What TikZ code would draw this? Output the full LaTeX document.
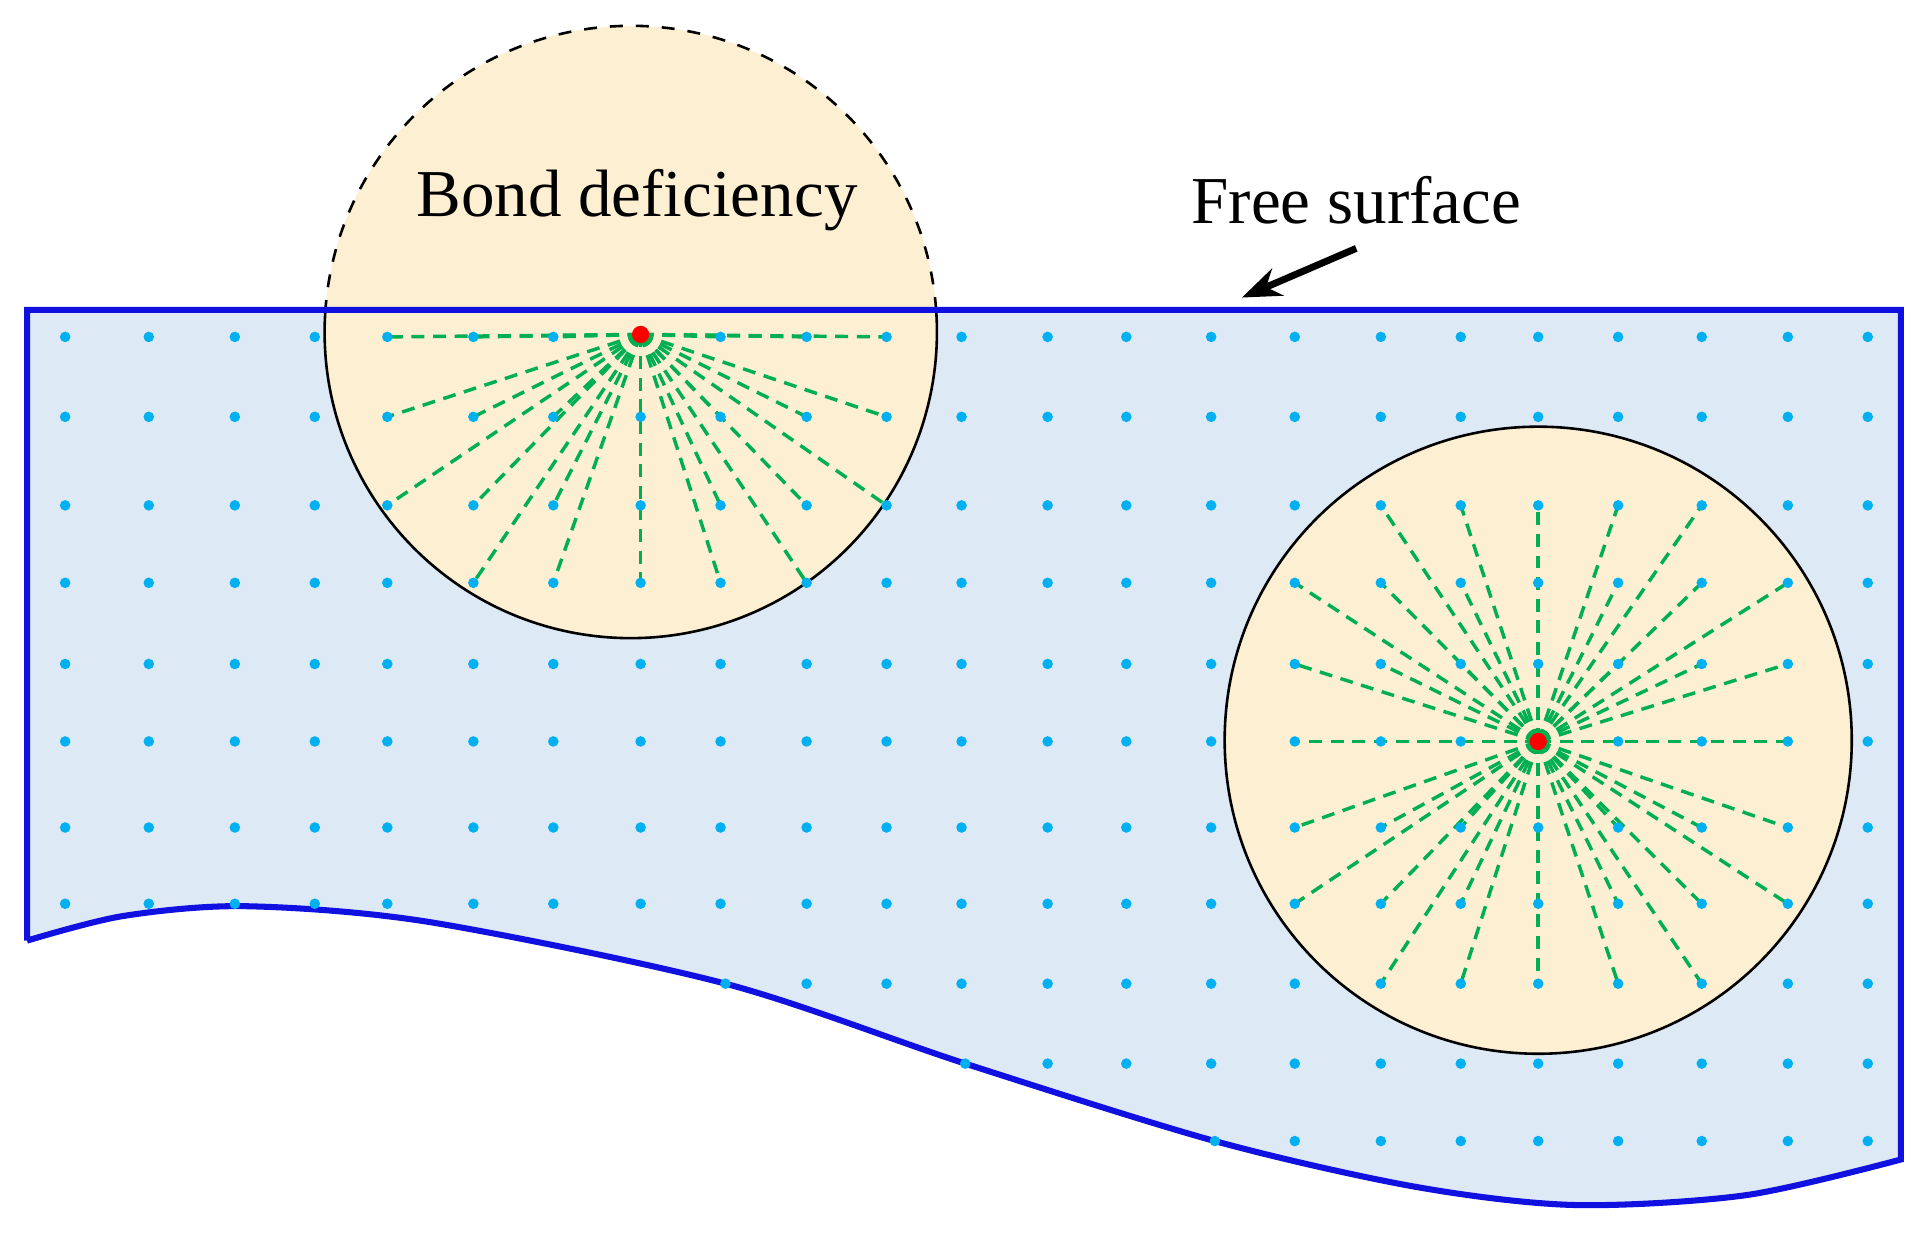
\documentclass[tikz,border=0pt]{standalone}
\usepackage{fontspec}
\setmainfont{Liberation Serif}
\usetikzlibrary{arrows.meta}
\definecolor{regfill}{RGB}{222,233,246}
\definecolor{regline}{RGB}{16,16,224}
\definecolor{porefill}{RGB}{253,240,210}
\definecolor{dotcol}{RGB}{0,176,240}
\definecolor{bondcol}{RGB}{0,176,80}
\begin{document}
\begin{tikzpicture}[x=0.01cm,y=-0.01cm,
  bond/.style={draw=bondcol, line width=0.8pt, dash pattern=on 3pt off 2pt},
  label/.style={font=\fontsize{15.5}{18}\selectfont, inner sep=0pt}]
\useasboundingbox (0,0) rectangle (1568,1015);
% region
\path[fill=regfill] (22,252) -- (1546,252) -- (1546,943)
  -- plot[smooth] coordinates {(1546,943)(1420,972)(1280,980)(1150,965)(988,928)(785,865)(590,800)(350,750)(200,737)(100,745)(22,765)} -- cycle;
% pores
\fill[porefill] (513,270) circle (249);
\fill[porefill] (1251,602) circle (255);
\draw[dashed, line width=0.6pt] (513,270) ++(-4.1:249) arc[start angle=-4.1,end angle=-175.9,radius=249];
\draw[line width=0.6pt] (513,270) ++(-175.9:249) arc[start angle=-175.9,end angle=-364.1,radius=249];
\draw[line width=0.6pt] (1251,602) circle (255);
% outline
\draw[draw=regline, line width=1.4pt] (22,765) -- (22,252) -- (1546,252) -- (1546,943)
  -- plot[smooth] coordinates {(1546,943)(1420,972)(1280,980)(1150,965)(988,928)(785,865)(590,800)(350,750)(200,737)(100,745)(22,765)};
% bonds
\foreach \y in {274,339,411,474,540,603,673,735,800} {
  \foreach \x in {53,121,191,256,315,385,450,521,586,656,721,782,852,916,985,1053,1123,1188,1251,1316,1384,1454,1519} {
    \pgfmathsetmacro{\dA}{veclen(\x-521,\y-272)}
    \pgfmathsetmacro{\dB}{veclen(\x-1251,\y-603)}
    \ifdim\dA pt<252pt \ifdim\dA pt>5pt \draw[bond] (521,272) -- (\x,\y); \fi\fi
    \ifdim\dB pt<252pt \ifdim\dB pt>5pt \draw[bond] (1251,603) -- (\x,\y); \fi\fi
  }
}
% dots
\foreach \y in {274,339,411,474,540,603,673,735} {
  \foreach \x in {53,121,191,256,315,385,450,521,586,656,721,782,852,916,985,1053,1123,1188,1251,1316,1384,1454,1519}
    \fill[dotcol] (\x,\y) circle (4.3);
}
\foreach \x in {590,656,721,782,852,916,985,1053,1123,1188,1251,1316,1384,1454,1519}
  \fill[dotcol] (\x,800) circle (4.3);
\foreach \x in {785,852,916,985,1053,1123,1188,1251,1316,1384,1454,1519}
  \fill[dotcol] (\x,865) circle (4.3);
\foreach \x in {988,1053,1123,1188,1251,1316,1384,1454,1519}
  \fill[dotcol] (\x,928) circle (4.3);
% centres
\node[circle, fill=red, inner sep=0pt, minimum size=0.14cm] (c1) at (521,272) {};
\node[circle, fill=red, inner sep=0pt, minimum size=0.14cm] (c2) at (1251,603) {};
% labels
\node[label] (bd) at (518,163) {Bond deficiency};
\node[label] (fs) at (1103,163) {Free surface};
\coordinate (as) at (1103,202);
\coordinate (ae) at (1010,242);
\draw[-{Stealth[length=9pt]}, line width=1.6pt] (as) -- (ae);
\end{tikzpicture}
\end{document}
